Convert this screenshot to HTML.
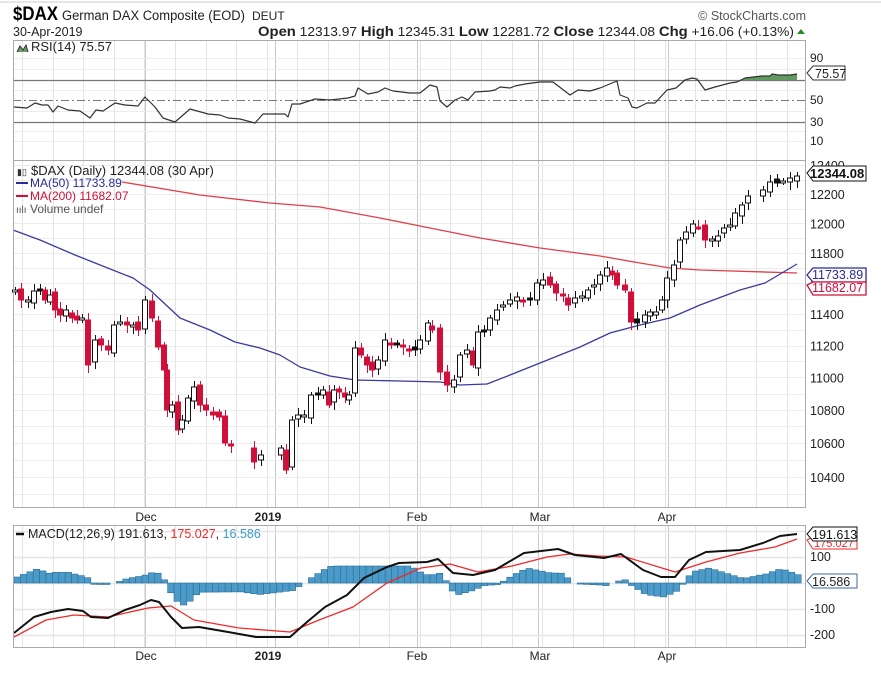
<!DOCTYPE html>
<html><head><meta charset="utf-8"><style>
body{margin:0;background:#fff;width:881px;height:671px;overflow:hidden;font-family:"Liberation Sans",sans-serif}
svg text{font-family:"Liberation Sans",sans-serif}
</style></head><body>
<svg id="s" width="881" height="671" xmlns="http://www.w3.org/2000/svg"></svg>
<script>
var o='';
function L(x1,y1,x2,y2,c,w,d){o+='<line x1="'+x1+'" y1="'+y1+'" x2="'+x2+'" y2="'+y2+'" stroke="'+c+'" stroke-width="'+(w||1)+'"'+(d?' stroke-dasharray="'+d+'"':'')+'/>';}
function T(x,y,t,s,c,a,b){o+='<text x="'+x+'" y="'+y+'" font-size="'+s+'" fill="'+(c||'#000')+'"'+(a?' text-anchor="'+a+'"':'')+(b?' font-weight="bold"':'')+'>'+t+'</text>';}
function P(pts,c,w){o+='<polyline fill="none" stroke="'+c+'" stroke-width="'+w+'" stroke-linejoin="round" points="'+pts.map(p=>p.join(',')).join(' ')+'"/>';}
var X0=13,X1=805;
L(0,2,881,2,'#ccc',1);
o+='<text x="13" y="20" font-size="19" font-weight="bold" fill="#000" textLength="45" lengthAdjust="spacingAndGlyphs">$DAX</text>';
o+='<text x="62" y="20" font-size="13.5" fill="#222" textLength="183" lengthAdjust="spacingAndGlyphs">German DAX Composite (EOD)</text>';
T(252,20,'DEUT',12,'#222');
T(13,36,'30-Apr-2019',12.5,'#222');
o+='<text x="258" y="36" font-size="13" fill="#222" textLength="536" lengthAdjust="spacingAndGlyphs"><tspan font-weight="bold" font-size="14">Open</tspan> 12313.97  <tspan font-weight="bold" font-size="14">High</tspan> 12345.31  <tspan font-weight="bold" font-size="14">Low</tspan> 12281.72  <tspan font-weight="bold" font-size="14">Close</tspan> 12344.08  <tspan font-weight="bold" font-size="14">Chg</tspan> +16.06 (+0.13%)</text>';
o+='<polygon points="797,34 805,34 801,29" fill="#2a8a2a"/>';
T(806,20,'© StockCharts.com',12.5,'#555','end');
function vgrid(y1,y2){
 for(var x=22;x<X1;x+=30.6){L(Math.round(x)+.5,y1,Math.round(x)+.5,y2,'#e4e4e4',1);}
 [145,275,417,538,668].forEach(x=>L(x+.5,y1,x+.5,y2,'#c8c8c8',1));
}
vgrid(40,160);
[58,141,69,90,111,131].forEach(y=>L(X0,y+.5,X1,y+.5,'#ececec',1));
L(X0,80.5,X1,80.5,'#777',1.3);L(X0,122.5,X1,122.5,'#777',1.3);L(X0,100.5,X1,100.5,'#777',1,'8,3,2,3');
var rsi=[[14,107],[27,108],[35,103],[42,105],[48,105],[53,112],[58,106],[68,110],[80,111],[90,118],[96,110],[103,111],[115,103],[125,105],[138,106],[145,97],[155,107],[163,118],[175,122],[190,109],[208,114],[220,115],[228,118],[240,119],[255,123],[263,114],[285,114],[288,117],[292,104],[300,104],[315,99],[330,100],[348,98],[355,96],[358,88],[368,94],[378,92],[385,88],[393,91],[410,93],[420,93],[430,85],[437,87],[440,101],[447,107],[455,100],[462,97],[468,100],[475,92],[490,91],[495,90],[500,87],[510,88],[515,86],[525,84],[540,82],[553,82],[570,95],[578,90],[590,91],[600,88],[605,86],[612,83],[617,81],[620,95],[628,98],[632,107],[637,108],[647,103],[655,103],[667,90],[676,88],[685,80],[692,78],[697,79],[705,90],[715,87],[730,83],[737,82],[745,78],[762,76],[770,76],[772,74],[778,75],[790,75],[797,74]];
o+='<polygon fill="#5f9a5f" points="740,80 745,78 762,76 770,76 772,74 778,75 790,75 797,74 797,80"/>';
P(rsi,'#333',1.2);
o+='<rect x="'+X0+'.5" y="40.5" width="'+(X1-X0)+'" height="120" fill="none" stroke="#aaa"/>';
T(31,51,'RSI(14) 75.57',13,'#222');
o+='<polyline points="17,52 20,46 23,50 26,45 28,52" fill="#6a9a6a" stroke="#333" stroke-width="1"/>';
[[90,62],[50,104],[30,126],[10,145]].forEach(a=>T(810,a[1],a[0],12,'#222'));
o+='<polygon points="807,73 813,66 845,66 845,80 813,80" fill="#fff" stroke="#333"/>';T(815,78,'75.57',12.5,'#222');
vgrid(160,507);
function py(v){return 194-1772*(Math.log(v)-Math.log(12200));}
for(var v=10300;v<=12400;v+=100){var y=Math.round(py(v))+.5;L(X0,y,X1,y,'#ececec',1);}
for(var v=10400;v<=12400;v+=200){T(810,py(v)+5,v,12.5,'#222');}
P([[122,182],[200,195],[270,203],[320,207],[380,218],[430,228],[480,238],[540,248],[600,256],[640,263],[670,268],[700,270],[797,273]],'#e0404a',1.3);
P([[13,230],[40,240],[75,255],[133,278],[150,290],[180,318],[210,330],[235,342],[260,348],[280,355],[300,367],[330,376],[355,380],[400,381],[440,382],[460,385],[487,384],[510,375],[540,363],[580,347],[610,333],[640,325],[670,318],[700,305],[740,290],[765,283],[797,264]],'#3a3aa0',1.3);
var cl=[[15,290],[21,300],[28,300],[34,291],[40,290],[45,300],[50,295],[55,310],[60,315],[66,310],[72,318],[77,320],[82,318],[88,365],[95,340],[101,345],[108,350],[114,325],[120,322],[127,325],[133,325],[138,330],[145,300],[152,318],[158,347],[164,370],[167,410],[172,405],[178,430],[182,420],[188,398],[194,387],[200,405],[206,410],[213,415],[219,417],[225,443],[231,445],[254,462],[261,455],[281,448],[286,470],[292,420],[298,415],[304,415],[311,395],[318,395],[323,390],[329,405],[334,390],[339,392],[345,397],[349,395],[355,348],[361,355],[367,365],[372,370],[378,360],[385,340],[391,345],[397,345],[403,347],[409,350],[415,350],[420,340],[428,323],[432,330],[440,372],[447,385],[454,380],[460,355],[467,350],[473,365],[478,332],[484,330],[490,318],[497,310],[503,305],[510,300],[517,297],[523,300],[530,300],[537,283],[543,280],[550,285],[556,293],[563,295],[568,305],[575,298],[582,296],[588,290],[594,285],[600,275],[607,268],[612,275],[617,285],[625,290],[631,322],[637,323],[645,315],[650,312],[656,312],[662,300],[667,278],[674,265],[680,240],[686,232],[693,224],[698,227],[705,240],[712,239],[718,236],[724,228],[730,225],[735,213],[742,205],[748,196],[763,190],[770,182],[777,183],[783,181],[790,178],[797,176]];
var prev=295;
cl.forEach(function(c,i){
 var x=c[0],y=c[1];
 var op=prev+((i*37)%7-3);
 var red=y>prev+1;
 var col=red?'#d0103a':'#111';
 var hi=Math.min(y,op)-3-((i*13)%5),lo=Math.max(y,op)+3+((i*17)%6);
 L(x+.5,hi,x+.5,lo,col,1);
 var top=Math.min(y,op),h=Math.max(2,Math.abs(y-op));
 var hollow=y<op;
 o+='<rect x="'+(x-2.5)+'" y="'+top+'" width="5" height="'+h+'" fill="'+(hollow?'#fff':col)+'" stroke="'+col+'" stroke-width="1"/>';
 prev=y;
});
o+='<rect x="'+X0+'.5" y="160.5" width="'+(X1-X0)+'" height="347" fill="none" stroke="#aaa"/>';
T(31,175,'$DAX (Daily) 12344.08 (30 Apr)',13,'#222');
T(17,175,'▮▯',9,'#333');
L(16,183,28,183,'#2a2a9a',2);T(30,187,'MA(50) 11733.89',12,'#2a2a9a');
L(16,196,28,196,'#d0103a',2);T(30,200,'MA(200) 11682.07',12,'#d0103a');
T(16,213,'ıılı',10,'#555');T(30,213,'Volume undef',12,'#555');
o+='<polygon points="807,173 813,166 866,166 866,181 813,181" fill="#fff" stroke="#111"/>';T(810,178,'12344.08',13,'#111',null,true);
o+='<polygon points="807,275 813,268 866,268 866,282 813,282" fill="#fff" stroke="#2a2a9a" stroke-width="1.3"/>';T(812,279,'11733.89',12.5,'#2a2a9a');
o+='<polygon points="807,285 813,282 866,282 866,295 813,295" fill="#fff" stroke="#d0103a" stroke-width="1.3"/>';T(812,292,'11682.07',12.5,'#d0103a');
function xl(y){[[146,'Dec'],[268,'2019',1],[417,'Feb'],[540,'Mar'],[667,'Apr']].forEach(a=>T(a[0],y,a[1],12,'#222','middle',a[2]));}
xl(521);
vgrid(525,647);
[557,583,609,635,531].forEach(y=>L(X0,y+.5,X1,y+.5,'#e6e6e6',1.5));
var mb=[[14,633],[34,617],[51,612],[68,609],[83,611],[91,617],[108,618],[125,610],[140,605],[151,600],[159,602],[171,617],[182,628],[199,627],[228,632],[256,637],[290,637],[307,622],[325,607],[347,595],[364,578],[387,567],[399,563],[427,562],[438,559],[453,573],[473,575],[495,570],[524,553],[558,549],[575,555],[604,558],[621,554],[643,570],[661,577],[675,577],[689,560],[706,552],[740,550],[763,543],[780,536],[797,534]];
var ms=[[14,637],[46,620],[74,615],[108,617],[148,608],[171,606],[194,620],[239,628],[290,632],[319,620],[353,607],[387,583],[421,568],[450,564],[478,572],[512,566],[547,557],[570,554],[598,556],[626,557],[675,572],[706,562],[740,553],[775,547],[797,539]];
function interp(a,x){for(var i=1;i<a.length;i++){if(x<=a[i][0]){var t=(x-a[i-1][0])/(a[i][0]-a[i-1][0]);return a[i-1][1]+t*(a[i][1]-a[i-1][1]);}}return a[a.length-1][1];}
for(var x=14;x<=797;x+=6.4){
 var d=(interp(ms,x)-interp(mb,x))*1.5;
 d=Math.max(-22,Math.min(17,d));
 if(Math.abs(d)<1)continue;
 var y=d>0?583-d:583;
 o+='<rect x="'+x.toFixed(1)+'" y="'+y.toFixed(1)+'" width="6.4" height="'+Math.abs(d).toFixed(1)+'" fill="#4b9ac8" stroke="#2a6f9a" stroke-width="0.6"/>';
}
P(ms,'#ee2a2a',1.3);
P(mb,'#111',2);
o+='<rect x="'+X0+'.5" y="525.5" width="'+(X1-X0)+'" height="122" fill="none" stroke="#aaa"/>';
L(16,534,24,534,'#111',2.5);
o+='<text x="28" y="538" font-size="12.5" fill="#222">MACD(12,26,9) 191.613, <tspan fill="#ee2a2a">175.027</tspan>, <tspan fill="#3a9ad0">16.586</tspan></text>';
[[100,561],[-100,613],[-200,639]].forEach(a=>T(810,a[1],a[0],12.5,'#222'));
o+='<polygon points="807,540 813,537 857,537 857,549 813,549" fill="#fff" stroke="#ee2a2a"/>';T(814,547,'175.027',11,'#ee2a2a');
o+='<polygon points="807,534 813,527 857,527 857,541 813,541" fill="#fff" stroke="#111"/>';T(812,539,'191.613',12.5,'#111');
o+='<polygon points="807,581 813,574 857,574 857,588 813,588" fill="#fff" stroke="#3a6aa0"/>';T(812,586,'16.586',12.5,'#222');
xl(660);
document.getElementById('s').innerHTML=o;
</script>
</body></html>
